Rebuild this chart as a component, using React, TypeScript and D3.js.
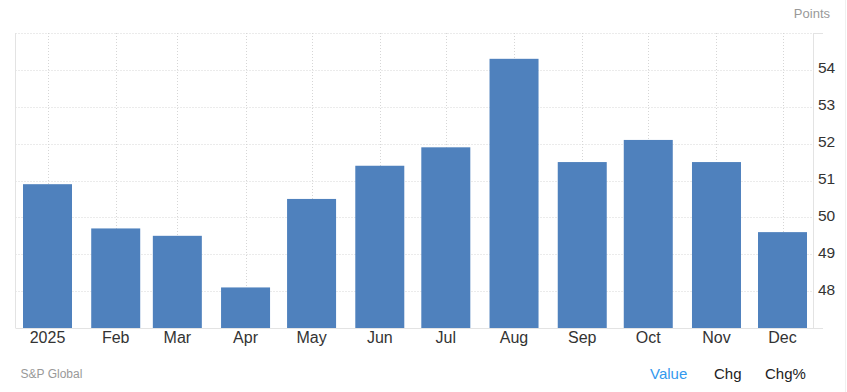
import React from "react";
import * as d3 from "d3";

const months = ["2025-01-01","2025-02-01","2025-03-01","2025-04-01","2025-05-01","2025-06-01","2025-07-01","2025-08-01","2025-09-01","2025-10-01","2025-11-01","2025-12-01"];
const monthLabels = ["2025","Feb","Mar","Apr","May","Jun","Jul","Aug","Sep","Oct","Nov","Dec"];
const values = [50.9, 49.7, 49.5, 48.1, 50.5, 51.4, 51.9, 54.3, 51.5, 52.1, 51.5, 49.6];
const yTicks = [48, 49, 50, 51, 52, 53, 54];
const gridLevels = [48, 49, 50, 51, 52, 53, 54, 55];
const legendItems = ["Value", "Chg", "Chg%"];

const W = 847, H = 392;
const FONT = "'Liberation Sans', Arial, Helvetica, sans-serif";

export default function App() {
  const dates = months.map((m) => new Date(m + "T00:00:00Z"));
  const x = d3.scaleUtc().domain([dates[0], dates[dates.length - 1]]).range([47.5, 782.5]);
  const y = d3.scaleLinear().domain([47, 55]).range([328, 33]);
  const left = 15.5, right = 813.5;
  const top = y(55), bottom = y(47);
  const barW = 49;
  const legendX = [650, 714, 765];

  return (
    <svg width={W} height={H} style={{ position: "absolute", left: 0, top: 0, fontFamily: FONT }}>
      <rect width={W} height={H} fill="#fff" />
      {dates.map((d, i) => (
        <line key={"vg" + i} x1={Math.round(x(d)) + 0.5} x2={Math.round(x(d)) + 0.5} y1={top} y2={bottom}
          stroke="#d6d6d6" strokeDasharray="1 2" />
      ))}
      {gridLevels.map((v) => (
        <line key={"hg" + v} x1={left} x2={right} y1={Math.round(y(v)) + 0.5} y2={Math.round(y(v)) + 0.5}
          stroke="#d6d6d6" strokeDasharray="1 2" />
      ))}
      {values.map((v, i) => (
        <rect key={"b" + i} x={x(dates[i]) - barW / 2} y={y(v)} width={barW} height={bottom - y(v)} fill="#4f81bd" />
      ))}
      <line x1={left} x2={left} y1={top} y2={bottom} stroke="#e3e3e3" />
      <line x1={right} x2={right} y1={top} y2={bottom} stroke="#e3e3e3" />
      <line x1={left} x2={823} y1={Math.round(bottom) + 0.5} y2={Math.round(bottom) + 0.5} stroke="#e3e3e3" />
      <line x1={right} x2={823} y1={Math.round(top) + 0.5} y2={Math.round(top) + 0.5} stroke="#e3e3e3" />
      <line x1={845.5} x2={845.5} y1={0} y2={H} stroke="#f0f0f0" />
      {yTicks.map((v) => (
        <text key={"yl" + v} x={818} y={y(v) - 2} dy="0.35em" fontSize={15.5} fill="#333">{v}</text>
      ))}
      {dates.map((d, i) => (
        <text key={"xl" + i} x={x(d)} y={337} dy="0.35em" textAnchor="middle" fontSize={16} fill="#333">{monthLabels[i]}</text>
      ))}
      <text x={830} y={13} dy="0.35em" textAnchor="end" fontSize={13} fill="#999">Points</text>
      <text x={20.5} y={374} dy="0.35em" fontSize={12} fill="#999">S&amp;P Global</text>
      {legendItems.map((t, i) => (
        <text key={"lg" + i} x={legendX[i]} y={374} dy="0.35em" fontSize={15} fill={i === 0 ? "#3399ee" : "#222"}>{t}</text>
      ))}
    </svg>
  );
}
